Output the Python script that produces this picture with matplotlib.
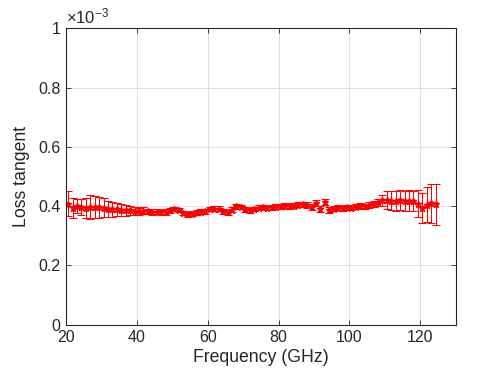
import matplotlib
matplotlib.use("Agg")
import matplotlib.pyplot as plt

plt.rcParams['font.family'] = ['Liberation Sans', 'DejaVu Sans']
plt.rcParams['mathtext.fontset'] = 'custom'
plt.rcParams['mathtext.rm'] = 'Liberation Sans'
plt.rcParams['mathtext.it'] = 'Liberation Sans:italic'

# Frequency (GHz)
frequency = [20.60, 21.85, 23.10, 24.35, 25.60, 26.85, 28.10, 29.35, 30.60, 31.85,
             33.10, 34.35, 35.60, 36.85, 38.10, 39.35, 40.60, 41.85, 43.10, 44.35,
             45.60, 46.85, 48.10, 49.35, 50.60, 51.85, 53.10, 54.35, 55.60, 56.85,
             58.10, 59.35, 60.60, 61.85, 63.10, 64.35, 65.60, 66.85, 68.10, 69.35,
             70.60, 71.85, 73.10, 74.35, 75.60, 76.85, 78.10, 79.35, 80.60, 81.85,
             83.10, 84.35, 85.60, 86.85, 88.10, 89.35, 90.60, 91.85, 93.10, 94.35,
             95.60, 96.85, 98.10, 99.35, 100.60, 101.85, 103.10, 104.35, 105.60, 106.85,
             108.10, 109.35, 110.60, 111.85, 113.10, 114.35, 115.60, 116.85, 118.10, 119.35,
             120.60, 121.85, 123.10, 124.35]

# Loss tangent in units of 1e-3
loss_tangent = [0.408, 0.394, 0.400, 0.397, 0.395, 0.397, 0.397, 0.396, 0.395, 0.392,
                0.389, 0.390, 0.388, 0.386, 0.386, 0.384, 0.383, 0.385, 0.382, 0.380,
                0.381, 0.379, 0.380, 0.386, 0.390, 0.387, 0.377, 0.372, 0.374, 0.379,
                0.381, 0.382, 0.390, 0.392, 0.391, 0.383, 0.379, 0.388, 0.399, 0.397,
                0.389, 0.386, 0.390, 0.395, 0.397, 0.394, 0.396, 0.398, 0.400, 0.401,
                0.399, 0.402, 0.405, 0.406, 0.404, 0.398, 0.412, 0.390, 0.413, 0.387,
                0.392, 0.395, 0.393, 0.396, 0.395, 0.398, 0.401, 0.399, 0.403, 0.408,
                0.413, 0.420, 0.421, 0.419, 0.418, 0.420, 0.418, 0.419, 0.417, 0.408,
                0.394, 0.405, 0.409, 0.406]

# Uncertainty in units of 1e-3
uncertainty = [0.042, 0.034, 0.024, 0.028, 0.034, 0.040, 0.038, 0.036, 0.031, 0.027,
               0.025, 0.022, 0.020, 0.018, 0.016, 0.014, 0.012, 0.011, 0.010, 0.010,
               0.009, 0.009, 0.009, 0.008, 0.008, 0.008, 0.008, 0.008, 0.008, 0.008,
               0.008, 0.008, 0.008, 0.008, 0.008, 0.008, 0.008, 0.008, 0.008, 0.008,
               0.008, 0.008, 0.008, 0.008, 0.008, 0.008, 0.008, 0.008, 0.008, 0.008,
               0.008, 0.008, 0.008, 0.008, 0.009, 0.010, 0.010, 0.010, 0.010, 0.009,
               0.008, 0.008, 0.008, 0.008, 0.008, 0.009, 0.009, 0.009, 0.010, 0.010,
               0.012, 0.018, 0.030, 0.033, 0.034, 0.034, 0.033, 0.034, 0.034, 0.045,
               0.052, 0.060, 0.065, 0.068]

x_ticks = [20, 40, 60, 80, 100, 120]
y_ticks = [0, 0.2, 0.4, 0.6, 0.8, 1.0]
y_tick_labels = ['0', '0.2', '0.4', '0.6', '0.8', '1']

axis_color = '#262626'

fig = plt.figure(figsize=(5.04, 3.78), dpi=100)
ax = fig.add_axes([0.131, 0.141, 0.773, 0.784])

ax.errorbar(frequency, loss_tangent, yerr=uncertainty, color='red', marker='*',
            markersize=4.5, linewidth=0.75, elinewidth=0.75, capsize=3, capthick=0.75)

ax.set_xlim(20, 130)
ax.set_ylim(0, 1)
ax.set_xticks(x_ticks)
ax.set_yticks(y_ticks)
ax.set_yticklabels(y_tick_labels)

ax.grid(True, color='#e0e0e0', linewidth=0.7)
ax.set_axisbelow(True)

for s in ax.spines.values():
    s.set_color(axis_color)
    s.set_linewidth(0.8)

ax.tick_params(direction='in', length=3.5, width=0.6, colors=axis_color,
               labelsize=11.5, top=True, right=True, pad=4)
for lab in ax.get_xticklabels() + ax.get_yticklabels():
    lab.set_color(axis_color)

ax.set_xlabel('Frequency (GHz)', fontsize=12.7, color=axis_color, labelpad=3)
ax.set_ylabel('Loss tangent', fontsize=12.7, color=axis_color, labelpad=6)

ax.text(0.0, 1.005, r'$\times\mathregular{10^{-3}}$', transform=ax.transAxes,
        ha='left', va='bottom', fontsize=12, color=axis_color)

fig.savefig('out.png', dpi=100)
